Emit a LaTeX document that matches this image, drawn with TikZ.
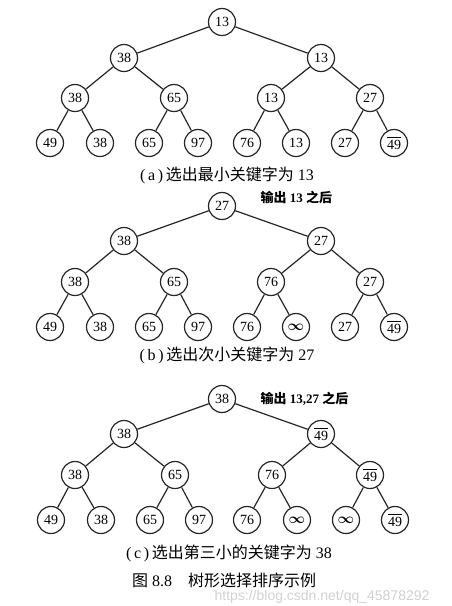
\documentclass[tikz,border=0pt]{standalone}
\usepackage{amsmath,bm}
\usepackage{fontspec}
\setmainfont{Liberation Serif}
\newfontfamily\cjk{Noto Sans CJK SC}
\newfontfamily\wmfont{Liberation Sans}
\newcommand{\ob}[1]{$\overline{\hbox{#1}}$}
\newcommand{\inft}{$\bm{\infty}$}
\begin{document}
\begin{tikzpicture}[x=1pt,y=-1pt,
  tnode/.style={draw=black!85,circle,line width=1.2pt,minimum size=27pt,inner sep=0pt,
    font=\fontsize{14}{14}\selectfont},
  edge/.style={draw=black!85,line width=1.2pt},
  captxt/.style={font=\fontsize{16}{16}\selectfont},
  notetxt/.style={font=\fontsize{13}{13}\selectfont\bfseries}]
\useasboundingbox[fill=white] (0,0) rectangle (451,606);
% ---------- tree a ----------
\def\ya{22}\def\yb{58}\def\yc{98}\def\yd{143}
\node[tnode] (a0) at (222,\ya) {13};
\node[tnode] (a1) at (124,\yb) {38};
\node[tnode] (a2) at (321,\yb) {13};
\node[tnode] (a3) at (75,\yc) {38};
\node[tnode] (a4) at (174,\yc) {65};
\node[tnode] (a5) at (271,\yc) {13};
\node[tnode] (a6) at (370,\yc) {27};
\node[tnode] (a7) at (50,\yd) {49};
\node[tnode] (a8) at (100,\yd) {38};
\node[tnode] (a9) at (149,\yd) {65};
\node[tnode] (a10) at (198,\yd) {97};
\node[tnode] (a11) at (247,\yd) {76};
\node[tnode] (a12) at (296,\yd) {13};
\node[tnode] (a13) at (345,\yd) {27};
\node[tnode] (a14) at (394,\yd) {\ob{49}};
\node[captxt] (capa) at (227,175) {(\,a\,)\,{\cjk 选出最小关键字为} 13};
% ---------- tree b ----------
\def\ya{206}\def\yb{241}\def\yc{282}\def\yd{327}
\node[tnode] (b0) at (222,\ya) {27};
\node[tnode] (b1) at (124,\yb) {38};
\node[tnode] (b2) at (321,\yb) {27};
\node[tnode] (b3) at (75,\yc) {38};
\node[tnode] (b4) at (174,\yc) {65};
\node[tnode] (b5) at (271,\yc) {76};
\node[tnode] (b6) at (370,\yc) {27};
\node[tnode] (b7) at (50,\yd) {49};
\node[tnode] (b8) at (100,\yd) {38};
\node[tnode] (b9) at (149,\yd) {65};
\node[tnode] (b10) at (198,\yd) {97};
\node[tnode] (b11) at (247,\yd) {76};
\node[tnode] (b12) at (296,\yd) {\inft};
\node[tnode] (b13) at (345,\yd) {27};
\node[tnode] (b14) at (394,\yd) {\ob{49}};
\node[notetxt,anchor=west] (nb) at (257,197) {{\cjk 输出} 13 {\cjk 之后}};
\node[captxt] (capb) at (227,355) {(\,b\,)\,{\cjk 选出次小关键字为} 27};
% ---------- tree c ----------
\def\ya{399}\def\yb{434}\def\yc{475}\def\yd{520}
\node[tnode] (c0) at (222,\ya) {38};
\node[tnode] (c1) at (124,\yb) {38};
\node[tnode] (c2) at (321,\yb) {\ob{49}};
\node[tnode] (c3) at (75,\yc) {38};
\node[tnode] (c4) at (175,\yc) {65};
\node[tnode] (c5) at (272,\yc) {76};
\node[tnode] (c6) at (370,\yc) {\ob{49}};
\node[tnode] (c7) at (51,\yd) {49};
\node[tnode] (c8) at (101,\yd) {38};
\node[tnode] (c9) at (150,\yd) {65};
\node[tnode] (c10) at (199,\yd) {97};
\node[tnode] (c11) at (247,\yd) {76};
\node[tnode] (c12) at (297,\yd) {\inft};
\node[tnode] (c13) at (346,\yd) {\inft};
\node[tnode] (c14) at (395,\yd) {\ob{49}};
\node[notetxt,anchor=west] (nc) at (257,399) {{\cjk 输出} 13,27 {\cjk 之后}};
\node[captxt] (capc) at (229,553) {(\,c\,)\,{\cjk 选出第三小的关键字为} 38};
\node[captxt] (fig) at (224,580) {{\cjk 图} 8.8\quad{\cjk 树形选择排序示例}};
\node[font=\wmfont\fontsize{14}{14}\selectfont,text=black!18] (wm) at (322,597) {https://blog.csdn.net/qq\_45878292};
% ---------- edges ----------
\foreach \t in {a,b,c}{
  \foreach \p/\l/\r in {0/1/2,1/3/4,2/5/6,3/7/8,4/9/10,5/11/12,6/13/14}{
    \draw[edge] (\t\p) -- (\t\l);
    \draw[edge] (\t\p) -- (\t\r);
  }
}
\end{tikzpicture}
\end{document}
